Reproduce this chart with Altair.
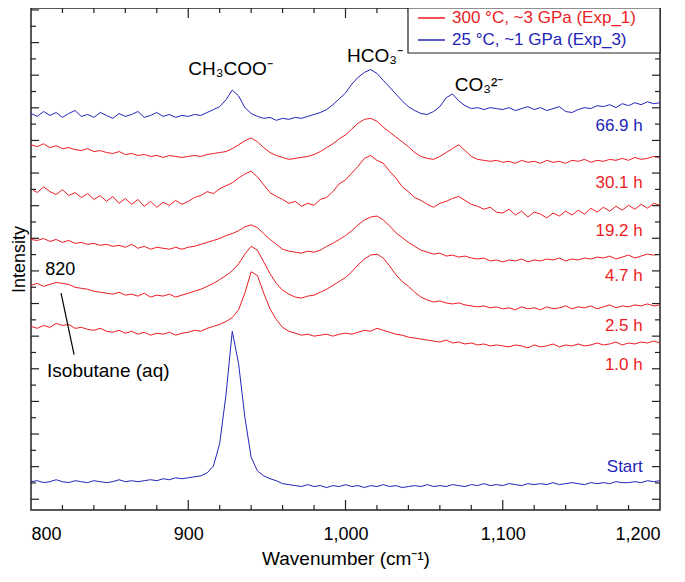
import altair as alt
import pandas as pd

# ---------------- data ----------------
wavenumber = list(range(800, 1201, 4))  # cm^-1 grid (101 points)

start = [29, 30, 28, 29, 31, 29, 28, 30, 29, 28, 30, 29, 28, 29, 31, 29, 30, 29, 30, 31, 30, 32, 31, 33, 32,
         33, 34, 35, 38, 45, 68, 118, 183, 150, 95, 54, 40, 35, 32, 30, 27, 26, 25, 24, 26, 24, 25, 23, 25, 24,
         26, 24, 25, 23, 25, 24, 26, 24, 25, 23, 24, 25, 24, 26, 24, 25, 24, 26, 25, 24, 26, 25, 27, 25, 26,
         25, 27, 26, 25, 27, 26, 27, 26, 28, 26, 27, 28, 27, 26, 28, 27, 28, 27, 29, 28, 28, 29, 28, 30, 29, 30]
h1_0 = [188, 186, 189, 187, 191, 189, 190, 186, 187, 185, 184, 186, 183, 182, 184, 181, 183, 180, 182, 179, 181, 180, 182, 179, 181,
        182, 184, 183, 186, 188, 190, 193, 197, 205, 222, 244, 240, 222, 206, 195, 187, 183, 181, 179, 180, 178, 179, 180, 178, 180,
        181, 180, 182, 184, 183, 186, 184, 182, 180, 179, 177, 176, 175, 174, 173, 172, 174, 171, 172, 170, 171, 169, 170, 168, 169,
        168, 167, 169, 168, 166, 169, 167, 168, 170, 167, 169, 168, 170, 168, 169, 171, 169, 170, 172, 169, 171, 170, 172, 171, 173, 171]
h2_5 = [230, 232, 229, 231, 233, 232, 231, 228, 227, 226, 224, 223, 222, 221, 223, 220, 221, 219, 222, 218, 220, 219, 221, 218, 220,
        222, 224, 226, 229, 232, 236, 240, 245, 252, 262, 270, 266, 254, 242, 232, 225, 221, 218, 217, 219, 220, 223, 226, 230, 234,
        238, 244, 251, 257, 261, 262, 258, 250, 241, 234, 229, 223, 218, 215, 213, 214, 212, 211, 212, 210, 209, 208, 209, 207, 208,
        206, 207, 205, 208, 206, 207, 205, 208, 206, 207, 209, 206, 208, 207, 209, 206, 208, 210, 207, 209, 208, 210, 209, 211, 209, 210]
h4_7 = [277, 276, 278, 275, 277, 274, 276, 273, 274, 272, 273, 271, 272, 270, 271, 269, 272, 268, 270, 267, 269, 268, 267, 269, 267,
        269, 270, 272, 274, 276, 278, 281, 283, 286, 290, 292, 289, 283, 277, 272, 267, 265, 264, 263, 265, 264, 266, 270, 273, 277,
        281, 286, 292, 297, 300, 301, 297, 291, 284, 279, 274, 270, 266, 264, 262, 263, 260, 261, 259, 260, 258, 257, 258, 255, 256,
        254, 256, 255, 257, 254, 256, 255, 257, 256, 258, 255, 257, 256, 258, 257, 259, 258, 260, 257, 259, 261, 258, 260, 262, 261, 262]
h19_2 = [329, 325, 331, 326, 323, 328, 322, 325, 320, 324, 318, 322, 316, 321, 314, 319, 313, 318, 311, 316, 310, 315, 312, 317, 313,
         316, 320, 322, 326, 324, 329, 332, 335, 340, 344, 347, 341, 333, 325, 321, 318, 314, 316, 311, 314, 312, 318, 320, 326, 334,
         338, 345, 352, 360, 363, 358, 355, 347, 340, 331, 326, 320, 317, 313, 310, 314, 316, 319, 321, 317, 313, 311, 308, 310, 305,
         304, 308, 302, 306, 300, 305, 303, 299, 304, 301, 306, 302, 307, 303, 309, 305, 310, 306, 311, 307, 312, 308, 313, 309, 314, 312]
h30_1 = [374, 372, 375, 371, 373, 370, 371, 369, 368, 370, 367, 368, 366, 365, 367, 364, 365, 363, 364, 362, 363, 361, 363, 362, 361,
         362, 363, 362, 364, 365, 366, 367, 370, 374, 378, 381, 377, 371, 366, 363, 361, 359, 360, 361, 362, 364, 367, 371, 375, 380,
         384, 390, 396, 400, 401, 398, 392, 387, 382, 377, 372, 366, 362, 360, 359, 362, 366, 370, 374, 368, 362, 359, 358, 357, 358,
         356, 357, 355, 358, 356, 357, 355, 358, 356, 357, 355, 358, 357, 359, 356, 358, 357, 359, 358, 360, 358, 361, 359, 360, 362, 361]
h66_9 = [406, 403, 408, 404, 407, 402, 406, 409, 403, 405, 402, 407, 404, 401, 406, 403, 405, 408, 402, 404, 407, 403, 405, 402, 404,
         403, 405, 404, 407, 410, 413, 420, 430, 424, 412, 406, 403, 401, 402, 399, 401, 400, 402, 401, 403, 405, 407, 410, 415, 421,
         427, 436, 443, 448, 451, 447, 440, 433, 426, 419, 413, 409, 406, 405, 408, 413, 422, 426, 419, 414, 411, 412, 410, 412, 411,
         410, 412, 409, 411, 413, 410, 412, 409, 411, 413, 408, 407, 410, 412, 411, 414, 413, 415, 412, 416, 414, 417, 415, 418, 416, 417]

series_names = ["Start", "1.0 h", "2.5 h", "4.7 h", "19.2 h", "30.1 h", "66.9 h"]
series_exp = ["Exp_3", "Exp_1", "Exp_1", "Exp_1", "Exp_1", "Exp_1", "Exp_3"]
series_vals = [start, h1_0, h2_5, h4_7, h19_2, h30_1, h66_9]

# right-hand trace labels
label_text = ["66.9 h", "30.1 h", "19.2 h", "4.7 h", "2.5 h", "1.0 h", "Start"]
label_exp = ["Exp_3", "Exp_1", "Exp_1", "Exp_1", "Exp_1", "Exp_1", "Exp_3"]
label_y = [393, 335, 286, 240, 188, 148, 44]
label_x = 1189

# band annotations
band_text = ["CH\u2083COO\u207b", "HCO\u2083\u207b", "CO\u2083\u00b2\u207b"]
band_x = [900, 1001, 1069.5]
band_y = [445, 459, 429]

exp_domain = ["Exp_1", "Exp_3"]
legend_text = ["300 \u00b0C, ~3 GPa (Exp_1)", "25 \u00b0C, ~1 GPa (Exp_3)"]

x_major = [900, 1000, 1100]
x_minor = [820, 840, 860, 880, 920, 940, 960, 980, 1020, 1040, 1060, 1080, 1120, 1140, 1160, 1180]

# ---------------- styling ----------------
RED = "#ec1c24"
BLUE = "#2424b8"
W, H = 629, 502
YMAX = 514
FONT = "Liberation Sans"

y_ticks = [11 + 16.7 * k for k in range(31)]
y_major = y_ticks[0::2]
y_minor = y_ticks[1::2]

rows = []
for name, exp, vals in zip(series_names, series_exp, series_vals):
    for w, v in zip(wavenumber, vals):
        rows.append({"series": name, "exp": exp, "wn": w, "I": v})
df = pd.DataFrame(rows)

xs = alt.Scale(domain=[800, 1200], nice=False, zero=False)
ys = alt.Scale(domain=[0, YMAX], nice=False, zero=False)
cs = alt.Scale(domain=exp_domain, range=[RED, BLUE])

X_AX = alt.Axis(values=[800, 900, 1000, 1100, 1200], format=",d", ticks=False, tickSize=0,
                domain=False, grid=False, labelFontSize=18, labelPadding=15,
                labelColor="black", title="Wavenumber (cm\u207b\u00b9)", titleFontSize=19,
                titleFontWeight="normal", titlePadding=6, titleColor="black")
Y_AX = alt.Axis(labels=False, ticks=False, tickSize=0, domain=False, grid=False,
                title="Intensity", titleFontSize=18, titleFontWeight="normal",
                titlePadding=3, titleColor="black")


def X(field):
    return alt.X(field, scale=xs, axis=X_AX, title="Wavenumber (cm\u207b\u00b9)")


def Y(field):
    return alt.Y(field, scale=ys, axis=Y_AX, title="Intensity")


lines = alt.Chart(df).mark_line(strokeWidth=1).encode(
    x=X("wn:Q"),
    y=Y("I:Q"),
    color=alt.Color("exp:N", scale=cs, legend=None),
    detail="series:N",
)

labels = alt.Chart(pd.DataFrame({"t": label_text, "exp": label_exp, "I": label_y,
                                 "wn": [label_x] * len(label_text)})).mark_text(
    align="right", baseline="middle", fontSize=17).encode(
    x=X("wn:Q"),
    y=Y("I:Q"),
    text="t:N",
    color=alt.Color("exp:N", scale=cs, legend=None),
)

bands = alt.Chart(pd.DataFrame({"t": band_text, "wn": band_x, "I": band_y})).mark_text(
    align="left", baseline="alphabetic", fontSize=19, color="black").encode(
    x=X("wn:Q"),
    y=Y("I:Q"),
    text="t:N",
)

iso = alt.Chart(pd.DataFrame({"t": ["820", "Isobutane (aq)"], "wn": [809, 810.2], "I": [241, 136],
                              "s": [18, 19]})).mark_text(
    align="left", baseline="alphabetic", color="black").encode(
    x=X("wn:Q"),
    y=Y("I:Q"),
    text="t:N",
    size=alt.Size("s:Q", scale=None, legend=None),
)

connector = alt.Chart(pd.DataFrame({"wn": [819.1], "I": [222], "wn2": [827.4], "I2": [159]})).mark_rule(
    color="black", strokeWidth=1.2).encode(
    x=X("wn:Q"), y=Y("I:Q"),
    x2="wn2:Q", y2="I2:Q",
)


def xticks(vals, length):
    d = pd.DataFrame({"wn": vals})
    bottom = alt.Chart(d).mark_rule(color="#222", strokeWidth=1.2).encode(
        x=X("wn:Q"), y=alt.value(H), y2=alt.value(H - length))
    top = alt.Chart(d).mark_rule(color="#222", strokeWidth=1.2).encode(
        x=X("wn:Q"), y=alt.value(0), y2=alt.value(length))
    return [bottom, top]


def yticks(vals, length):
    d = pd.DataFrame({"I": vals})
    left = alt.Chart(d).mark_rule(color="#222", strokeWidth=1.2).encode(
        y=Y("I:Q"), x=alt.value(0), x2=alt.value(length))
    right = alt.Chart(d).mark_rule(color="#222", strokeWidth=1.2).encode(
        y=Y("I:Q"), x=alt.value(W), x2=alt.value(W - length))
    return [left, right]


ticks = xticks(x_major, 10) + xticks(x_minor, 5) + yticks(y_major, 8) + yticks(y_minor, 5)

# manual legend box (top right)
one = pd.DataFrame({"a": [0]})
box = alt.Chart(one).mark_rect(fill="white", stroke="#222", strokeWidth=1.2).encode(
    x=alt.value(377), x2=alt.value(W), y=alt.value(0), y2=alt.value(45))
leg = [box]
for i, (txt, col) in enumerate(zip(legend_text, [RED, BLUE])):
    yy = 10 + 22 * i
    leg.append(alt.Chart(one).mark_rule(color=col, strokeWidth=1.5).encode(
        x=alt.value(387), x2=alt.value(414), y=alt.value(yy)))
    leg.append(alt.Chart(one).mark_text(align="left", baseline="middle", fontSize=17, color=col).encode(
        x=alt.value(421), y=alt.value(yy), text=alt.value(txt)))

chart = alt.layer(lines, labels, bands, iso, connector, *ticks, *leg).properties(
    width=W, height=H,
    padding={"left": 23, "top": 0, "right": 10, "bottom": 64},
    autosize=alt.AutoSizeParams(type="none"),
).configure(font=FONT).configure_view(stroke="#222", strokeWidth=1.5)

chart.save("out.html", embed_options={"renderer": "svg", "actions": False})
